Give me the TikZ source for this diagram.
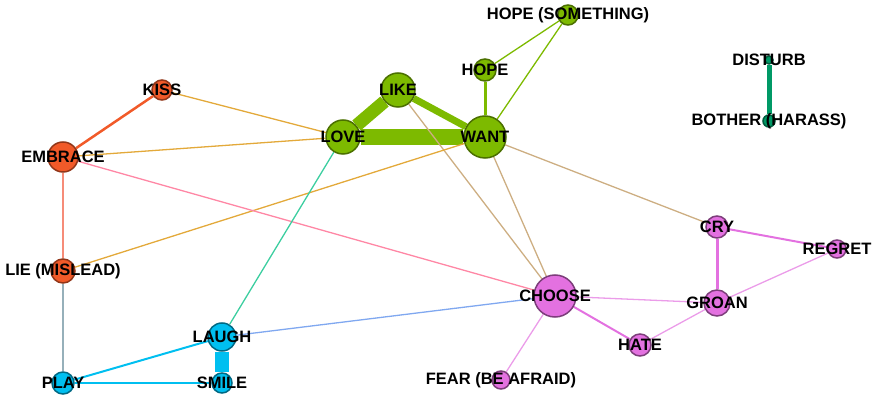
\documentclass[tikz,border=0pt]{standalone}
\usepackage{fontspec}
\setmainfont{Liberation Sans}
\usetikzlibrary{backgrounds}
\definecolor{grn}{HTML}{7DBA00}
\definecolor{org}{HTML}{F15A29}
\definecolor{cyn}{HTML}{00BFF0}
\definecolor{pnk}{HTML}{E371E0}
\definecolor{tea}{HTML}{009966}
\definecolor{tan}{HTML}{CDAE82}
\definecolor{gld}{HTML}{E3A93A}
\definecolor{salmon}{HTML}{F68C78}
\definecolor{rose}{HTML}{FF87A5}
\definecolor{slate}{HTML}{96B0BA}
\definecolor{mint}{HTML}{3CCEA0}
\definecolor{sky}{HTML}{80A8F0}
\def\greennode{\node[word,fill=grn,draw=grn!60!black]}
\def\orangenode{\node[word,fill=org,draw=org!60!black]}
\def\cyannode{\node[word,fill=cyn,draw=cyn!55!black]}
\def\pinknode{\node[word,fill=pnk,draw=pnk!55!black]}
\def\tealnode{\node[word,fill=tea,draw=tea!60!black]}

\begin{document}
\begin{tikzpicture}[x=1pt,y=-1pt,
  word/.style={circle,inner sep=0pt,line width=1.5pt},
  every label/.style={font=\bfseries\fontsize{16.5}{17}\selectfont,text=black},
  thin edge/.style={line width=1.3pt}]
\useasboundingbox (0,0) rectangle (873,395);
% green group
\greennode[minimum size=20pt,label=center:{HOPE (SOMETHING)}] (hopes) at (568,15) {};
\greennode[minimum size=22pt,label=center:HOPE] (hope) at (485,70) {};
\greennode[minimum size=34pt,label=center:LIKE] (like) at (398,90) {};
\greennode[minimum size=34pt,label=center:LOVE] (love) at (343,137) {};
\greennode[minimum size=42pt,label=center:WANT] (want) at (485,137) {};
% orange group
\orangenode[minimum size=20pt,label=center:KISS] (kiss) at (162,90) {};
\orangenode[minimum size=30pt,label=center:EMBRACE] (embrace) at (63,157) {};
\orangenode[minimum size=24pt,label=center:{LIE (MISLEAD)}] (lie) at (63,271) {};
% cyan group
\cyannode[minimum size=28pt,label=center:LAUGH] (laugh) at (222,337) {};
\cyannode[minimum size=22pt,label=center:PLAY] (play) at (63,383) {};
\cyannode[minimum size=20pt,label=center:SMILE] (smile) at (222,383) {};
% pink group
\pinknode[minimum size=42pt,label=center:CHOOSE] (choose) at (555,296) {};
\pinknode[minimum size=18pt,label=center:{FEAR (BE AFRAID)}] (fear) at (501,380) {};
\pinknode[minimum size=22pt,label=center:HATE] (hate) at (640,345) {};
\pinknode[minimum size=26pt,label=center:GROAN] (groan) at (717,303) {};
\pinknode[minimum size=22pt,label=center:CRY] (cry) at (717,227) {};
\pinknode[minimum size=18pt,label=center:REGRET] (regret) at (837,249) {};
% teal pair
\tealnode[minimum size=8pt,label=center:DISTURB] (disturb) at (769,60) {};
\tealnode[minimum size=12pt,label=center:{BOTHER (HARASS)}] (bother) at (769,121) {};

\begin{scope}[on background layer]
\draw[thin edge,grn] (hopes) -- (hope);
\draw[thin edge,grn] (hopes) -- (want);
\draw[grn,line width=3pt] (hope) -- (want);
\draw[grn,line width=13pt] (like) -- (love);
\draw[grn,line width=7pt] (like) -- (want);
\draw[grn,line width=16pt] (love) -- (want);
\draw[thin edge,tan] (like) -- (choose);
\draw[thin edge,tan] (want) -- (choose);
\draw[thin edge,tan] (want) -- (cry);
\draw[thin edge,gld] (kiss) -- (love);
\draw[thin edge,gld] (embrace) -- (love);
\draw[thin edge,gld] (lie) -- (want);
\draw[org,line width=2.5pt] (kiss) -- (embrace);
\draw[thin edge,salmon] (embrace) -- (lie);
\draw[thin edge,rose] (embrace) -- (choose);
\draw[thin edge,slate] (lie) -- (play);
\draw[thin edge,mint] (love) -- (laugh);
\draw[thin edge,sky] (laugh) -- (choose);
\draw[cyn,line width=2pt] (laugh) -- (play);
\draw[cyn,line width=2pt] (play) -- (smile);
\draw[cyn,line width=14pt] (laugh) -- (smile);
\draw[thin edge,pnk!70] (choose) -- (groan);
\draw[pnk,line width=2pt] (choose) -- (hate);
\draw[thin edge,pnk!70] (choose) -- (fear);
\draw[thin edge,pnk!70] (hate) -- (groan);
\draw[pnk,line width=3pt] (groan) -- (cry);
\draw[thin edge,pnk!70] (groan) -- (regret);
\draw[pnk,line width=2pt] (cry) -- (regret);
\draw[tea,line width=5pt] (disturb) -- (bother);
\end{scope}
\end{tikzpicture}
\end{document}
